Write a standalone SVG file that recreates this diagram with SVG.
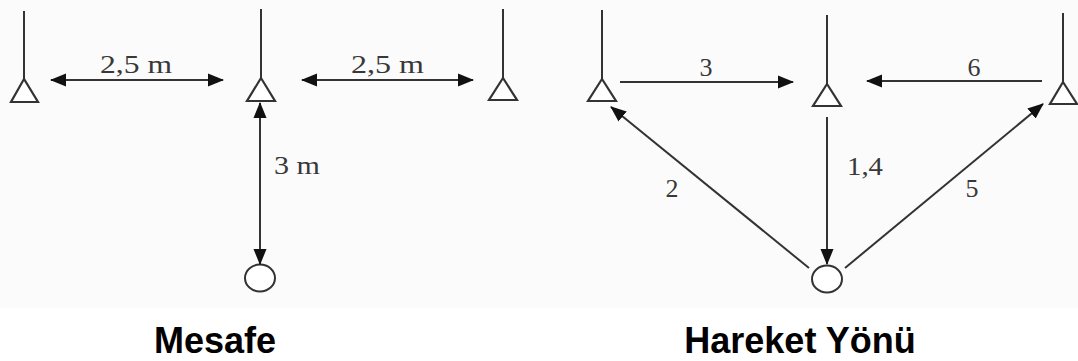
<svg xmlns="http://www.w3.org/2000/svg" width="1078" height="361" viewBox="0 0 1078 361">
  <defs>
    <marker id="ah" markerUnits="userSpaceOnUse" markerWidth="16" markerHeight="14" refX="15" refY="6.5" orient="auto-start-reverse" viewBox="0 0 16 13">
      <path d="M0,0 L16,6.5 L0,13 z" fill="#111"/>
    </marker>
  </defs>
  <style>
    .pole { stroke: #333; stroke-width: 2; fill: none; }
    .tri { stroke: #333; stroke-width: 2.2; fill: #fff; stroke-linejoin: miter; }
    .ball { stroke: #333; stroke-width: 2; fill: #fff; }
    .conn { stroke: #333; stroke-width: 2; fill: none; }
    .num { font-family: "Liberation Serif", "Times New Roman", serif; font-size: 26px; fill: #383838; }
    .title { font-family: "Liberation Sans", Arial, Helvetica, sans-serif; font-size: 36px; font-weight: bold; fill: #000; text-anchor: middle; }
  </style>
  <rect x="0" y="0" width="1078" height="361" fill="#ffffff"/>
  <rect x="0" y="0" width="1078" height="308" fill="#fbfbfb"/>

  <!-- Left panel: Mesafe -->
  <g id="cone-l1">
    <line class="pole" x1="24" y1="11" x2="24" y2="79"/>
    <polygon class="tri" points="24,79 11,102 38,102"/>
  </g>
  <g id="cone-l2">
    <line class="pole" x1="261" y1="9" x2="261" y2="78"/>
    <polygon class="tri" points="261,78 247,101 275,101"/>
  </g>
  <g id="cone-l3">
    <line class="pole" x1="503" y1="9" x2="503" y2="78"/>
    <polygon class="tri" points="503,78 489,100 517,100"/>
  </g>
  <g id="ball-l">
    <ellipse class="ball" cx="260" cy="278" rx="15" ry="13.5"/>
  </g>

  <!-- Right panel: Hareket Yönü -->
  <g id="cone-r1">
    <line class="pole" x1="602" y1="10" x2="602" y2="79"/>
    <polygon class="tri" points="602,79 588,101 616,101"/>
  </g>
  <g id="cone-r2">
    <line class="pole" x1="827" y1="15" x2="827" y2="84"/>
    <polygon class="tri" points="827,84 813,106 841,106"/>
  </g>
  <g id="cone-r3">
    <line class="pole" x1="1063" y1="13" x2="1063" y2="82"/>
    <polygon class="tri" points="1063,82 1050,104 1077,104"/>
  </g>
  <g id="ball-r">
    <ellipse class="ball" cx="827" cy="279" rx="15" ry="13.5"/>
  </g>

  <g id="connectors">
    <line class="conn" x1="51" y1="80" x2="223" y2="80" marker-start="url(#ah)" marker-end="url(#ah)"/>
    <line class="conn" x1="302" y1="80" x2="473" y2="80" marker-start="url(#ah)" marker-end="url(#ah)"/>
    <line class="conn" x1="260" y1="103" x2="260" y2="264" marker-start="url(#ah)" marker-end="url(#ah)"/>

    <line class="conn" x1="620" y1="82" x2="793" y2="82" marker-end="url(#ah)"/>
    <line class="conn" x1="1042" y1="81" x2="867" y2="81" marker-end="url(#ah)"/>
    <line class="conn" x1="827" y1="117" x2="827" y2="264" marker-end="url(#ah)"/>
    <line class="conn" x1="809" y1="268" x2="611" y2="107" marker-end="url(#ah)"/>
    <line class="conn" x1="845" y1="268" x2="1043" y2="104" marker-end="url(#ah)"/>
  </g>

  <g id="labels">
    <text class="num" x="100" y="73" textLength="72" lengthAdjust="spacingAndGlyphs">2,5 m</text>
    <text class="num" x="351" y="73" textLength="73" lengthAdjust="spacingAndGlyphs">2,5 m</text>
    <text class="num" x="274" y="174" textLength="46" lengthAdjust="spacingAndGlyphs">3 m</text>

    <text class="num" x="706" y="76" text-anchor="middle">3</text>
    <text class="num" x="974" y="76" text-anchor="middle">6</text>
    <text class="num" x="847" y="175" textLength="36" lengthAdjust="spacingAndGlyphs">1,4</text>
    <text class="num" x="672" y="197" text-anchor="middle">2</text>
    <text class="num" x="972" y="197" text-anchor="middle">5</text>
  </g>

  <text class="title" x="215" y="353">Mesafe</text>
  <text class="title" x="800" y="353">Hareket Yönü</text>
</svg>
